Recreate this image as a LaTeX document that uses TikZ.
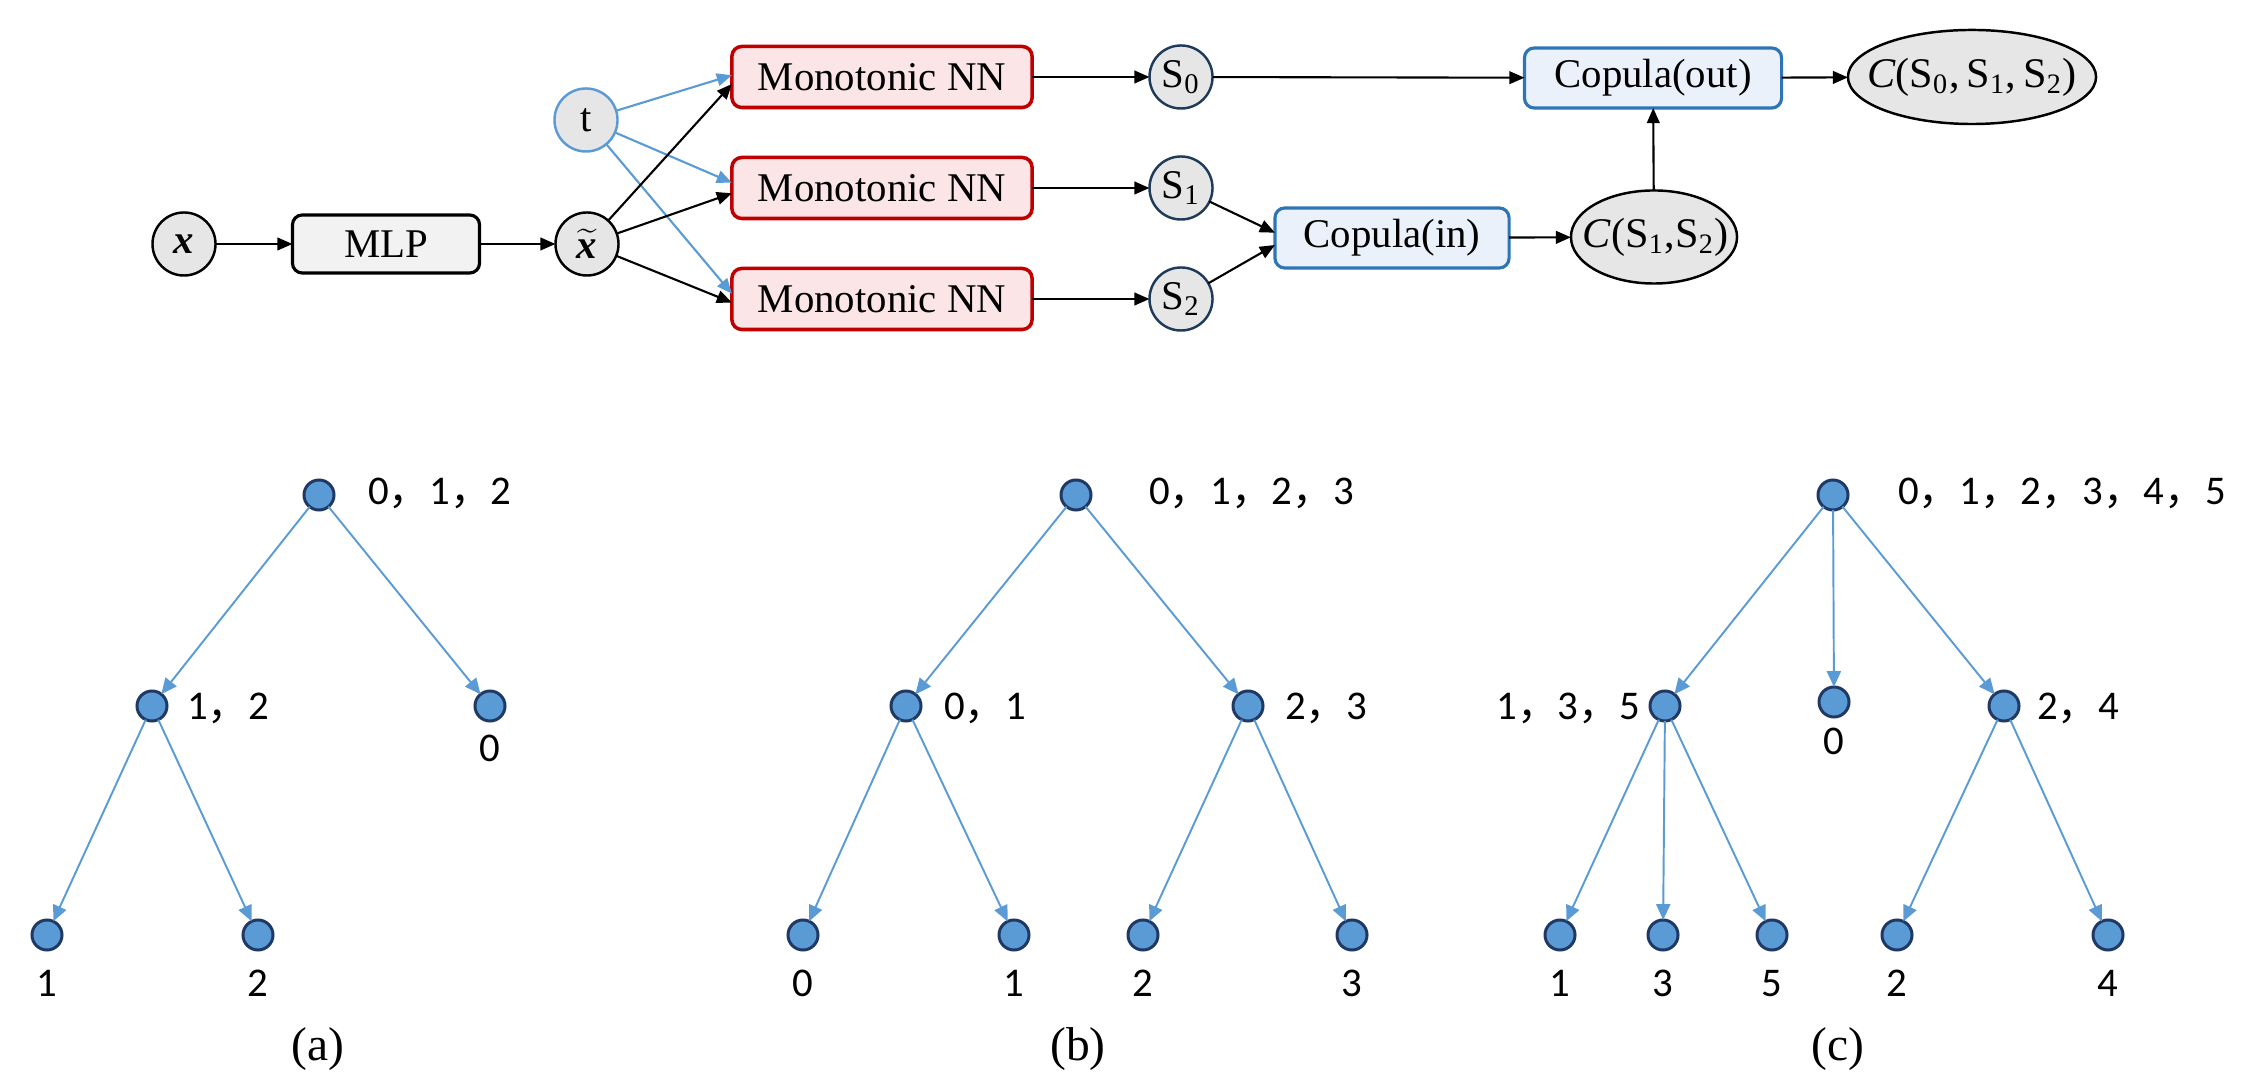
\documentclass[tikz,border=0pt]{standalone}
\usepackage{fontspec}
\setmainfont{Liberation Serif}
\newfontfamily\cjk{Noto Sans CJK SC}
\newfontfamily\carl{Carlito}
\newcommand{\fwc}{{\cjk ，}}
\usetikzlibrary{arrows.meta,shapes.geometric}
\definecolor{gfill}{HTML}{E7E6E6}
\definecolor{mlpfill}{HTML}{F2F2F2}
\definecolor{monofill}{HTML}{FBE5E7}
\definecolor{monodraw}{HTML}{C00000}
\definecolor{copfill}{HTML}{EAF1FA}
\definecolor{copdraw}{HTML}{2E75B6}
\definecolor{cblue}{HTML}{5B9BD5}
\definecolor{sdraw}{HTML}{1F3B5A}
\definecolor{tdark}{HTML}{1F3864}
\begin{document}
\begin{tikzpicture}[x=0.01cm,y=-0.01cm,
  every node/.style={inner sep=0pt, outer sep=0pt},
  topfont/.style={font=\fontsize{11.6}{14}\selectfont},
  ellfont/.style={font=\fontsize{12}{14}\selectfont},
  conn/.style={-{Triangle[length=4.3pt,width=3.6pt]}, line width=0.6pt, draw=black},
  bconn/.style={-{Triangle[length=4.3pt,width=3.6pt]}, line width=0.6pt, draw=cblue},
  gcirc/.style={circle, draw=black, fill=gfill, line width=0.7pt, minimum size=0.63cm, topfont},
  scirc/.style={circle, draw=sdraw, fill=gfill, line width=0.7pt, minimum size=0.63cm, topfont},
  tcirc/.style={circle, draw=cblue, fill=gfill, line width=0.7pt, minimum size=0.63cm, topfont},
  roundbox/.style={rectangle, rounded corners=2.8pt, line width=0.9pt, topfont},
  mono/.style={roundbox, draw=monodraw, fill=monofill, line width=1pt, minimum width=3.0cm, minimum height=0.61cm},
  cop/.style={roundbox, draw=copdraw, fill=copfill, minimum height=0.60cm},
  gell/.style={ellipse, draw=black, fill=gfill, line width=0.7pt},
  tn/.style={circle, fill=cblue, draw=tdark, line width=0.85pt, minimum size=0.3cm},
  tedge/.style={-{Triangle[length=4.5pt,width=4pt]}, line width=0.55pt, draw=cblue, fill=cblue},
  tlab/.style={font=\carl\fontsize{11.6}{13}\selectfont},
  captext/.style={font=\fontsize{13.5}{16}\selectfont}
]
\useasboundingbox (0,0) rectangle (2248,1086);

% ---------- top network ----------
\node[gcirc] (x) at (184,244) {\textbf{\textit{x}}};
\node[roundbox, draw=black, fill=mlpfill, minimum width=1.87cm, minimum height=0.58cm] (mlp) at (386,244) {MLP};
\node[gcirc] (xt) at (587,244) {$\widetilde{\textbf{\textit{x}}}$};
\node[tcirc] (t) at (586,120) {t};
\node[mono] (m0) at (882,77) {Monotonic NN};
\node[mono] (m1) at (882,188) {Monotonic NN};
\node[mono] (m2) at (882,299) {Monotonic NN};
\node[scirc] (s0) at (1181,77) {S\textsubscript{0}};
\node[scirc] (s1) at (1181,188) {S\textsubscript{1}};
\node[scirc] (s2) at (1181,299) {S\textsubscript{2}};
\node[cop, minimum width=2.57cm] (cout) at (1653,78) {Copula(out)};
\node[cop, minimum width=2.34cm] (cin) at (1392,238) {Copula(in)};
\node[gell, minimum width=1.66cm, minimum height=0.93cm] (c12) at (1654,237) {};
\node[ellfont] (c12t) at ([xshift=0.5pt]c12.center) {\textit{C}(S\textsubscript{1},S\textsubscript{2})};
\node[gell, minimum width=2.48cm, minimum height=0.94cm] (c012) at (1972,77) {};
\node[ellfont] (c012t) at (c012) {\textit{C}(S\textsubscript{0},\,S\textsubscript{1},\,S\textsubscript{2})};

\draw[conn] (x) -- (mlp);
\draw[conn] (mlp) -- (xt);
\draw[bconn] (t) -- ([yshift=0.5pt]m0.west);
\draw[bconn] (t) -- ([yshift=1.5pt]m1.west);
\draw[bconn] (t) -- ([yshift=1.5pt]m2.west);
\draw[conn] (xt) -- ([yshift=-2pt]m0.west);
\draw[conn] (xt) -- ([yshift=-1.5pt]m1.west);
\draw[conn] (xt) -- ([yshift=-1pt]m2.west);
\draw[conn] (m0) -- (s0);
\draw[conn] (m1) -- (s1);
\draw[conn] (m2) -- (s2);
\draw[conn] (s0) -- (cout);
\draw[conn] (s1) -- ([yshift=1.5pt]cin.west);
\draw[conn] (s2) -- ([yshift=-2pt]cin.west);
\draw[conn] (cin) -- (c12);
\draw[conn] (c12) -- (cout);
\draw[conn] (cout) -- (c012);

% ---------- tree (a) ----------
\node[tn] (a0) at (319,495) {};
\node[tn] (a1) at (152,706) {};
\node[tn] (a2) at (490,706) {};
\node[tn] (a3) at (47,935) {};
\node[tn] (a4) at (258,935) {};
\draw[tedge] (a0) -- (a1);
\draw[tedge] (a0) -- (a2);
\draw[tedge] (a1) -- (a3);
\draw[tedge] (a1) -- (a4);
\node[tlab, anchor=base west] (la0) at (368,505) {0\fwc 1\fwc 2};
\node[tlab, anchor=base west] (la1) at (187,720) {1\fwc 2};
\node[tlab, anchor=base] (la2) at (490,762) {0};
\node[tlab, anchor=base] (la3) at (47,997) {1};
\node[tlab, anchor=base] (la4) at (258,997) {2};
\node[captext] (capa) at (318,1049) {(a)};

% ---------- tree (b) ----------
\node[tn] (b0) at (1076,495) {};
\node[tn] (b1) at (906,706) {};
\node[tn] (b2) at (1248,706) {};
\node[tn] (b3) at (803,935) {};
\node[tn] (b4) at (1014,935) {};
\node[tn] (b5) at (1143,935) {};
\node[tn] (b6) at (1352,935) {};
\draw[tedge] (b0) -- (b1);
\draw[tedge] (b0) -- (b2);
\draw[tedge] (b1) -- (b3);
\draw[tedge] (b1) -- (b4);
\draw[tedge] (b2) -- (b5);
\draw[tedge] (b2) -- (b6);
\node[tlab, anchor=base west] (lb0) at (1149,505) {0\fwc 1\fwc 2\fwc 3};
\node[tlab, anchor=base west] (lb1) at (944,720) {0\fwc 1};
\node[tlab, anchor=base west] (lb2) at (1285,720) {2\fwc 3};
\node[tlab, anchor=base] (lb3) at (803,997) {0};
\node[tlab, anchor=base] (lb4) at (1014,997) {1};
\node[tlab, anchor=base] (lb5) at (1143,997) {2};
\node[tlab, anchor=base] (lb6) at (1352,997) {3};
\node[captext] (capb) at (1078,1049) {(b)};

% ---------- tree (c) ----------
\node[tn] (c0) at (1833,495) {};
\node[tn] (c1) at (1665,706) {};
\node[tn] (c2) at (1834,702) {};
\node[tn] (c3) at (2004,706) {};
\node[tn] (c4) at (1560,935) {};
\node[tn] (c5) at (1663,935) {};
\node[tn] (c6) at (1772,935) {};
\node[tn] (c7) at (1897,935) {};
\node[tn] (c8) at (2108,935) {};
\draw[tedge] (c0) -- (c1);
\draw[tedge] (c0) -- (c2);
\draw[tedge] (c0) -- (c3);
\draw[tedge] (c1) -- (c4);
\draw[tedge] (c1) -- (c5);
\draw[tedge] (c1) -- (c6);
\draw[tedge] (c3) -- (c7);
\draw[tedge] (c3) -- (c8);
\node[tlab, anchor=base west] (lc0) at (1898,505) {0\fwc 1\fwc 2\fwc 3\fwc 4\fwc 5};
\node[tlab, anchor=base east] (lc1) at (1640,720) {1\fwc 3\fwc 5};
\node[tlab, anchor=base] (lc2) at (1834,755) {0};
\node[tlab, anchor=base west] (lc3) at (2037,720) {2\fwc 4};
\node[tlab, anchor=base] (lc4) at (1560,997) {1};
\node[tlab, anchor=base] (lc5) at (1663,997) {3};
\node[tlab, anchor=base] (lc6) at (1772,997) {5};
\node[tlab, anchor=base] (lc7) at (1897,997) {2};
\node[tlab, anchor=base] (lc8) at (2108,997) {4};
\node[captext] (capc) at (1838,1049) {(c)};
\end{tikzpicture}
\end{document}
